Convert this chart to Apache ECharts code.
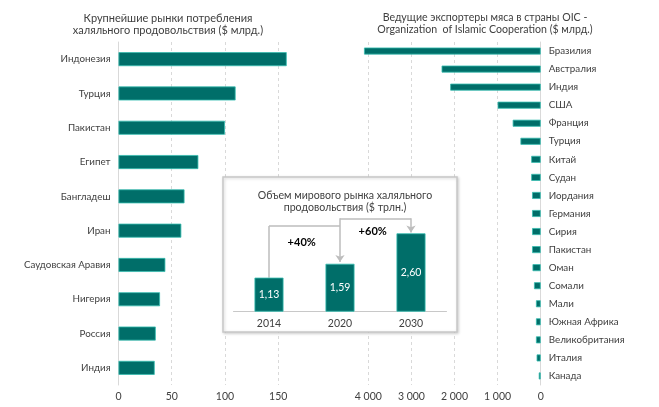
<!DOCTYPE html>
<html>
<head>
<meta charset="utf-8">
<script src="https://cdn.jsdelivr.net/npm/echarts@6/dist/echarts.min.js"></script>
<style>
html,body{margin:0;padding:0;background:#fff;}
#c{width:659px;height:407px;}
</style>
</head>
<body>
<div id="c"></div>
<script>
// ---- data ----
const leftCategories = ['Индонезия','Турция','Пакистан','Египет','Бангладеш','Иран','Саудовская Аравия','Нигерия','Россия','Индия'];
const leftValues = [158, 110, 100, 75, 62, 59, 44, 39, 35, 34];
const leftTicks = [50, 100, 150];

const rightCategories = ['Бразилия','Австралия','Индия','США','Франция','Турция','Китай','Судан','Иордания','Германия','Сирия','Пакистан','Оман','Сомали','Мали','Южная Африка','Великобритания','Италия','Канада'];
const rightValues = [4100, 2300, 2100, 1000, 650, 470, 220, 220, 200, 200, 200, 200, 190, 155, 110, 110, 110, 95, 45];
const rightTicks = [1000, 2000, 3000, 4000];

const insetYears = ['2014', '2020', '2030'];
const insetValues = [1.13, 1.59, 2.60];
const growthLabels = ['+40%', '+60%'];
const connectorLevels = [2.84, 3.10];
const arrowEnds = [1.65, 2.63];

const leftTitle = 'Крупнейшие рынки потребления\nхаляльного продовольствия ($ млрд.)';
const rightTitle = 'Ведущие экспортеры мяса в страны OIC -\nOrganization  of Islamic Cooperation ($ млрд.)';
const insetTitle = 'Объем мирового рынка халяльного\nпродовольствия ($ трлн.)';

// ---- styles ----
const FONT = 'Lato';
const TEXT = '#404040';
const TEAL = '#006e69';
const TEAL_BORDER = '#35bcb0';
const GRID = '#d9d9d9';
const LABEL_SIZE = 9.8;

const fmtThousands = v => {
  const s = String(Math.round(v));
  return s.replace(/\B(?=(\d{3})+(?!\d))/g, ' ');
};

const chart = echarts.init(document.getElementById('c'), null, {renderer: 'canvas'});

const gridMarkLine = (ticks) => ({
  silent: true,
  z: 1,
  symbol: ['none', 'none'],
  label: {show: false},
  lineStyle: {color: GRID, type: [3, 3], width: 1},
  emphasis: {disabled: true},
  data: ticks.map(t => ({xAxis: t}))
});

const connectorStyle = {color: '#bdbdbd', width: 1.5, type: 'solid'};

chart.setOption({
  animation: false,
  textStyle: {fontFamily: FONT},
  title: [
    {text: leftTitle, left: 163, top: 8, textAlign: 'center',
     textStyle: {fontFamily: FONT, fontSize: 11, fontWeight: 'normal', color: TEXT, lineHeight: 11.5}},
    {text: rightTitle, left: 480, top: 7, textAlign: 'center',
     textStyle: {fontFamily: FONT, fontSize: 10.6, fontWeight: 'normal', color: TEXT, lineHeight: 11.5}},
    {text: insetTitle, left: 340, top: 184, textAlign: 'center', z: 12,
     textStyle: {fontFamily: FONT, fontSize: 10.6, fontWeight: 'normal', color: TEXT, lineHeight: 12.6}}
  ],
  grid: [
    {left: 118.5, top: 42, width: 181, height: 343, containLabel: false},
    {left: 355.4, top: 42, width: 185.3, height: 343, containLabel: false},
    {left: 233.5, top: 206.2, width: 213, height: 105.5, containLabel: false, z: 10}
  ],
  xAxis: [
    {gridIndex: 0, type: 'value', min: 0, max: 170, interval: 50,
     axisLine: {show: false}, axisTick: {show: false}, splitLine: {show: false},
     axisLabel: {showMaxLabel: false, color: TEXT, fontSize: 10.5, margin: 6, fontFamily: FONT}},
    {gridIndex: 1, type: 'value', min: 0, max: 4300, interval: 1000, inverse: true,
     axisLine: {show: false}, axisTick: {show: false}, splitLine: {show: false},
     axisLabel: {showMaxLabel: false, color: TEXT, fontSize: 10.5, margin: 6, fontFamily: FONT,
                 formatter: fmtThousands}},
    {gridIndex: 2, type: 'category', data: insetYears, z: 11,
     axisLine: {show: true, lineStyle: {color: '#c8c8c8', width: 1}}, axisTick: {show: false},
     axisLabel: {color: TEXT, fontSize: 10.5, margin: 6, fontFamily: FONT}}
  ],
  yAxis: [
    {gridIndex: 0, type: 'category', data: leftCategories, inverse: true,
     axisLine: {show: true, lineStyle: {color: GRID, width: 1}}, axisTick: {show: false},
     axisLabel: {color: TEXT, fontSize: LABEL_SIZE, margin: 8, fontFamily: FONT}},
    {gridIndex: 1, type: 'category', data: rightCategories, inverse: true, position: 'right',
     axisLine: {show: true, lineStyle: {color: GRID, width: 1}}, axisTick: {show: false},
     axisLabel: {color: TEXT, fontSize: LABEL_SIZE, margin: 8, fontFamily: FONT}},
    {gridIndex: 2, type: 'value', min: 0, max: 3.5, show: false}
  ],
  graphic: [
    {type: 'rect', z: 5, silent: true,
     shape: {x: 223, y: 177, width: 234, height: 155},
     style: {fill: '#ffffff', stroke: '#c8c8c8', lineWidth: 1.5,
             shadowBlur: 3, shadowColor: 'rgba(0,0,0,0.18)', shadowOffsetX: 1, shadowOffsetY: 1}},
    {type: 'text', z: 20, silent: true, x: 301.7, y: 242.3,
     style: {text: growthLabels[0], fill: '#000', font: 'bold 11px ' + FONT, align: 'center', verticalAlign: 'middle'}},
    {type: 'text', z: 20, silent: true, x: 372.7, y: 231,
     style: {text: growthLabels[1], fill: '#000', font: 'bold 11px ' + FONT, align: 'center', verticalAlign: 'middle'}}
  ],
  series: [
    // dashed gridlines (behind bars)
    {type: 'line', xAxisIndex: 0, yAxisIndex: 0, data: [], z: 1, silent: true,
     markLine: gridMarkLine(leftTicks)},
    {type: 'line', xAxisIndex: 1, yAxisIndex: 1, data: [], z: 1, silent: true,
     markLine: gridMarkLine(rightTicks)},
    {type: 'bar', xAxisIndex: 0, yAxisIndex: 0, data: leftValues, barWidth: 14, z: 3,
     itemStyle: {color: TEAL, borderColor: TEAL_BORDER, borderWidth: 0.8}},
    {type: 'bar', xAxisIndex: 1, yAxisIndex: 1, data: rightValues, barWidth: 7, z: 3,
     itemStyle: {color: TEAL, borderColor: TEAL_BORDER, borderWidth: 0.8}},
    {type: 'bar', xAxisIndex: 2, yAxisIndex: 2, data: insetValues, barWidth: 29, z: 12,
     itemStyle: {color: TEAL, borderColor: TEAL_BORDER, borderWidth: 0.8},
     label: {show: true, position: 'inside', color: '#ffffff', fontSize: 10.5, fontFamily: FONT,
             formatter: p => p.value.toFixed(2).replace('.', ',')},
     markLine: {
       silent: true, z: 11,
       symbol: ['none', 'none'], symbolSize: 7,
       label: {show: false},
       lineStyle: connectorStyle,
       emphasis: {disabled: true},
       data: [
         [{coord: [insetYears[0], insetValues[0]]}, {coord: [insetYears[0], connectorLevels[0]]}],
         [{coord: [insetYears[0], connectorLevels[0]]}, {coord: [insetYears[1], connectorLevels[0]]}],
         [{coord: [insetYears[1], connectorLevels[1]]}, {coord: [insetYears[1], arrowEnds[0]], symbol: 'arrow', symbolSize: 7}],
         [{coord: [insetYears[1], connectorLevels[1]]}, {coord: [insetYears[2], connectorLevels[1]]}],
         [{coord: [insetYears[2], connectorLevels[1]]}, {coord: [insetYears[2], arrowEnds[1]], symbol: 'arrow', symbolSize: 7}]
       ]
     }}
  ]
});
</script>
</body>
</html>
